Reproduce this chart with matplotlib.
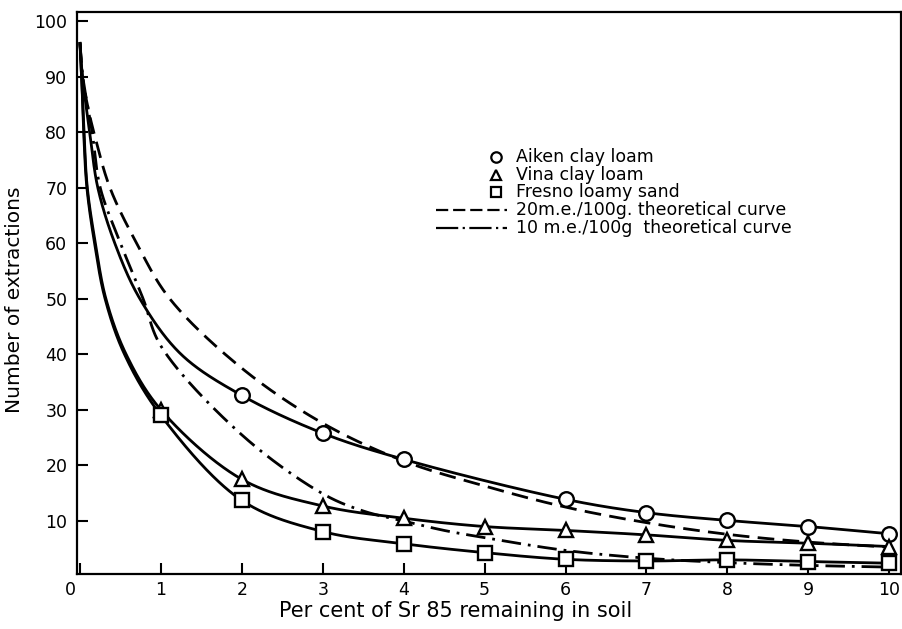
import numpy as np
import matplotlib
matplotlib.use("Agg")
import matplotlib.pyplot as plt
from matplotlib.transforms import ScaledTranslation

plt.rcParams['font.family'] = ['DejaVu Sans']

# measured points (markers)
aiken_x = [2, 3, 4, 6, 7, 8, 9, 10]
aiken_y = [32.6, 25.8, 21.1, 13.9, 11.5, 10.1, 9.0, 7.7]
vina_x = [1, 2, 3, 4, 5, 6, 7, 8, 9, 10]
vina_y = [30.0, 17.5, 12.7, 10.5, 9.0, 8.3, 7.5, 6.5, 6.0, 5.4]
fresno_x = [1, 2, 3, 4, 5, 6, 7, 8, 9, 10]
fresno_y = [29.0, 13.7, 8.1, 5.9, 4.3, 3.1, 2.8, 3.0, 2.7, 2.4]

# drawn curve near the y axis
aiken_head_x = [0.0, 0.03, 0.12, 0.22, 0.43, 0.74, 1.25]
aiken_head_y = [96, 90, 80, 70, 60, 50, 40]
vina_head_x = [0.0, 0.02, 0.05, 0.09, 0.19, 0.32, 0.57]
vina_head_y = [96, 90, 80, 70, 60, 50, 40]
fresno_head_x = [0.0, 0.02, 0.045, 0.085, 0.18, 0.31, 0.55]
fresno_head_y = [96, 90, 80, 70, 60, 50, 40]

# theoretical curves
me20_x = [0.0, 0.03, 0.09, 0.17, 0.37, 0.7, 1.11, 2, 3, 4, 5, 6, 7, 8, 9, 10]
me20_y = [96, 90, 85, 80, 70, 60, 50, 37.5, 27.6, 20.8, 16.3, 12.5, 9.7, 7.6, 6.2, 5.3]
me10_x = [0.0, 0.035, 0.15, 0.25, 0.5, 0.78, 1.0, 2, 3, 3.5, 4, 4.5, 5, 6, 7, 8, 9, 10]
me10_y = [96, 90, 80, 70, 60, 50, 41.5, 25.5, 14.9, 11.8, 10.0, 8.3, 7.0, 4.7, 3.3, 2.5, 2.0, 1.7]

legend_labels = ["Aiken clay loam", "Vina clay loam", "Fresno loamy sand",
                 "20m.e./100g. theoretical curve", "10 m.e./100g  theoretical curve"]


def smooth(x, y, n=120):
    # centripetal Catmull-Rom through the points, in rough screen units
    p = np.column_stack([np.asarray(x, float) * 81, np.asarray(y, float) * 5.55])
    p = np.vstack([2 * p[0] - p[1], p, 2 * p[-1] - p[-2]])
    out = []
    for i in range(1, len(p) - 2):
        P0, P1, P2, P3 = p[i - 1], p[i], p[i + 1], p[i + 2]
        t0 = 0.0
        t1 = t0 + np.linalg.norm(P1 - P0) ** 0.5
        t2 = t1 + np.linalg.norm(P2 - P1) ** 0.5
        t3 = t2 + np.linalg.norm(P3 - P2) ** 0.5
        t = np.linspace(t1, t2, n)[:, None]
        A1 = (t1 - t) / (t1 - t0) * P0 + (t - t0) / (t1 - t0) * P1
        A2 = (t2 - t) / (t2 - t1) * P1 + (t - t1) / (t2 - t1) * P2
        A3 = (t3 - t) / (t3 - t2) * P2 + (t - t2) / (t3 - t2) * P3
        B1 = (t2 - t) / (t2 - t0) * A1 + (t - t0) / (t2 - t0) * A2
        B2 = (t3 - t) / (t3 - t1) * A2 + (t - t1) / (t3 - t1) * A3
        out.append((t2 - t) / (t2 - t1) * B1 + (t - t1) / (t2 - t1) * B2)
    c = np.vstack(out)
    return c[:, 0] / 81, c[:, 1] / 5.55


fig = plt.figure(figsize=(9.03, 6.29), dpi=100)
ax = fig.add_axes([0.0853, 0.0874, 0.912, 0.894])

lw = 2.0
for hx, hy, px, py, mk, ms in [
        (aiken_head_x, aiken_head_y, aiken_x, aiken_y, 'o', 10.5),
        (vina_head_x, vina_head_y, vina_x, vina_y, '^', 10),
        (fresno_head_x, fresno_head_y, fresno_x, fresno_y, 's', 10)]:
    xs, ys = smooth(hx + px, hy + py)
    ax.plot(xs, ys, color='black', lw=lw, zorder=2)
    ax.plot(px, py, linestyle='none', marker=mk, ms=ms, mfc='white',
            mec='black', mew=1.7, zorder=4)

xs, ys = smooth(me20_x, me20_y)
l20, = ax.plot(xs, ys, color='black', lw=lw, zorder=3)
l20.set_dashes((6, 3))
xs, ys = smooth(me10_x, me10_y)
l10, = ax.plot(xs, ys, color='black', lw=lw, zorder=3)
l10.set_dashes((7, 2.5, 1, 2.5))

ax.set_xlim(-0.037, 10.14)
ax.set_ylim(0.45, 101.7)
ax.set_xticks(range(0, 11))
ax.set_yticks(range(10, 101, 10))
ax.tick_params(direction='in', length=8, width=1.5, labelsize=12.5)
ax.tick_params(axis='y', pad=7)
ax.tick_params(axis='x', pad=5)
lab0 = ax.get_xticklabels()[0]
lab0.set_transform(lab0.get_transform() + ScaledTranslation(-10 / 100, 0, fig.dpi_scale_trans))
for s in ax.spines.values():
    s.set_linewidth(1.6)

ax.set_xlabel("Per cent of Sr 85 remaining in soil", fontsize=15)
ax.xaxis.set_label_coords(0.46, -0.048)
ax.set_ylabel("Number of extractions", fontsize=14.5)
ax.yaxis.set_label_coords(-0.064, 0.4875)

# legend, drawn in axes fractions
rows = [0.742, 0.710, 0.679, 0.647, 0.615]
mx, tx = 0.509, 0.533
for r, mk, ms in zip(rows[:3], ['o', '^', 's'], [7.5, 7.5, 7]):
    ax.plot([mx], [r], transform=ax.transAxes, marker=mk, ms=ms, mfc='white',
            mec='black', mew=1.6, linestyle='none', clip_on=False)
for r, dsh in zip(rows[3:], [(5.5, 2.2), (10, 2.0, 1, 2.0)]):
    ln, = ax.plot([0.436, 0.522], [r, r], transform=ax.transAxes, color='black',
                  lw=1.6, clip_on=False)
    ln.set_dashes(dsh)
for r, t in zip(rows, legend_labels):
    ax.text(tx, r, t, transform=ax.transAxes, fontsize=12.5, va='center', ha='left')

fig.savefig("out.png", dpi=100)
